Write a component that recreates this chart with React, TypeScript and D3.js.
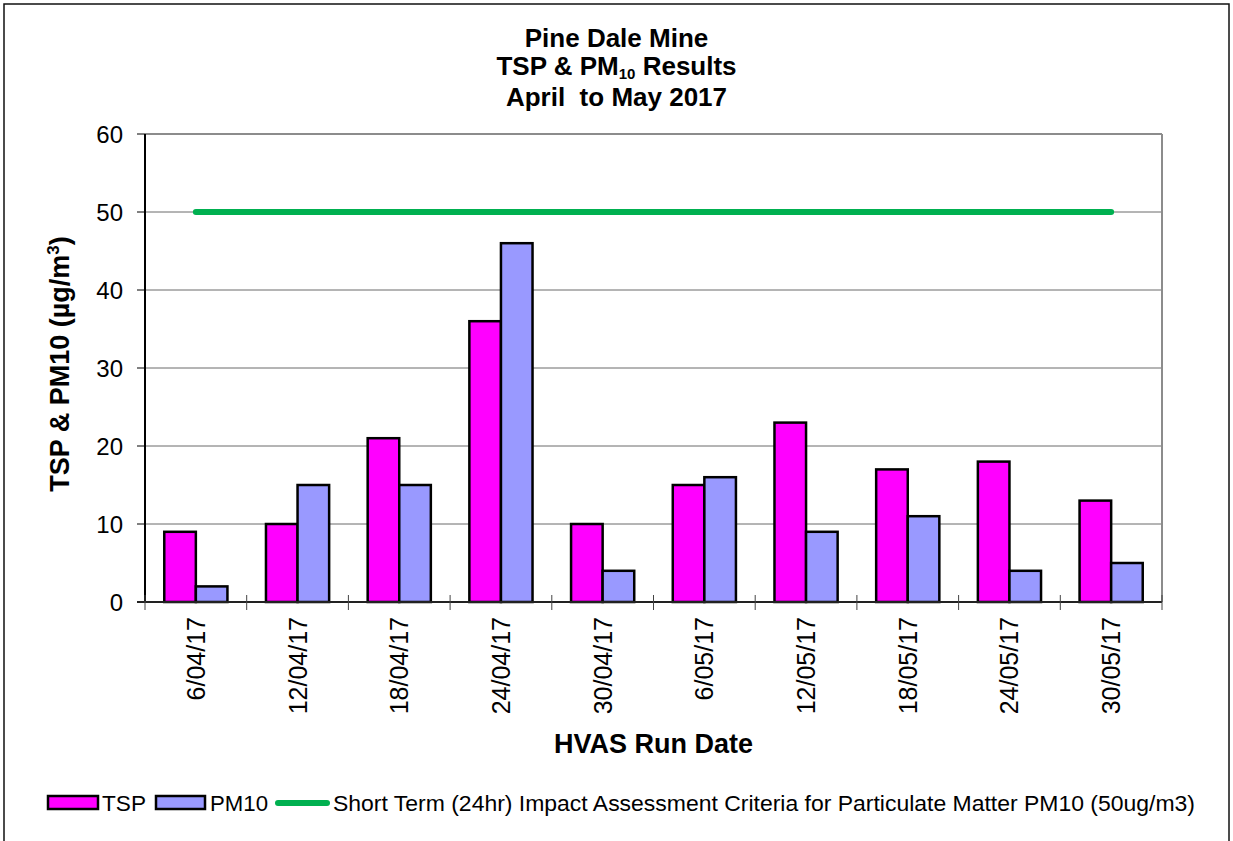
import React from "react";
import * as d3 from "d3";

// HVAS run dates and measured concentrations (µg/m³)
const runDates = [
  "6/04/17", "12/04/17", "18/04/17", "24/04/17", "30/04/17",
  "6/05/17", "12/05/17", "18/05/17", "24/05/17", "30/05/17",
];
const tspValues = [9, 10, 21, 36, 10, 15, 23, 17, 18, 13];
const pm10Values = [2, 15, 15, 46, 4, 16, 9, 11, 4, 5];
const criteriaValue = 50;
const yTicks = [0, 10, 20, 30, 40, 50, 60];
const seriesKeys = ["TSP", "PM10"];

const W = 1233;
const H = 841;
const plot = { left: 145, right: 1162, top: 134, bottom: 602 };

const TSP_FILL = "#FF00FF";
const PM10_FILL = "#9999FF";
const LINE_GREEN = "#00B050";
const FONT = "Liberation Sans, Arial, sans-serif";

export default function App() {
  const x = d3
    .scaleBand<string>()
    .domain(runDates)
    .range([plot.left, plot.right])
    .paddingInner(0)
    .paddingOuter(0);
  const x1 = d3
    .scaleBand<string>()
    .domain(seriesKeys)
    .range([0, x.bandwidth()])
    .paddingInner(0)
    .paddingOuter(0.61);
  const y = d3.scaleLinear().domain([0, 60]).range([plot.bottom, plot.top]);

  const series = [
    { key: "TSP", values: tspValues, fill: TSP_FILL },
    { key: "PM10", values: pm10Values, fill: PM10_FILL },
  ];

  const centers = runDates.map((d) => (x(d) as number) + x.bandwidth() / 2);
  const criteriaLine = d3
    .line<number>()
    .x((c) => c)
    .y(() => y(criteriaValue));

  const boundaries = runDates.map((d) => x(d) as number).concat([plot.right]);
  const titleX = (4 + 1229) / 2;
  const plotMidX = (plot.left + plot.right) / 2;
  const plotMidY = (plot.top + plot.bottom) / 2;

  return (
    <svg
      width={W}
      height={H}
      style={{ position: "absolute", left: 0, top: 0, background: "#fff" }}
      fontFamily={FONT}
    >
      <rect x={0} y={0} width={W} height={H} fill="#fff" />
      {/* chart area frame */}
      <rect x={4} y={4} width={1225} height={860} fill="none" stroke="#111" strokeWidth={1.5} />

      {/* title */}
      <text x={titleX} textAnchor="middle" fontWeight="bold" fontSize={26} fill="#000" style={{ whiteSpace: "pre" }}>
        <tspan x={titleX} y={47}>Pine Dale Mine</tspan>
        <tspan x={titleX} y={75}>
          TSP &amp; PM<tspan fontSize={15} dy={4}>10</tspan>
          <tspan dy={-4}> Results</tspan>
        </tspan>
        <tspan x={titleX} y={106}>April  to May 2017</tspan>
      </text>

      {/* gridlines */}
      {yTicks
        .filter((t) => t > 0 && t < 60)
        .map((t) => (
          <line key={`g${t}`} x1={plot.left} x2={plot.right} y1={y(t)} y2={y(t)} stroke="#6a6a6a" strokeWidth={1} />
        ))}
      {/* plot border (top and right) */}
      <line x1={plot.left} x2={plot.right} y1={plot.top} y2={plot.top} stroke="#8c8c8c" strokeWidth={2} />
      <line x1={plot.right} x2={plot.right} y1={plot.top} y2={plot.bottom} stroke="#8c8c8c" strokeWidth={2} />

      {/* bars */}
      {series.map((s) =>
        s.values.map((v, i) => (
          <rect
            key={`${s.key}${i}`}
            x={(x(runDates[i]) as number) + (x1(s.key) as number)}
            y={y(v)}
            width={x1.bandwidth()}
            height={y(0) - y(v)}
            fill={s.fill}
            stroke="#000"
            strokeWidth={2.5}
          />
        ))
      )}

      {/* criteria line */}
      <path
        d={criteriaLine(centers) as string}
        fill="none"
        stroke={LINE_GREEN}
        strokeWidth={6}
        strokeLinecap="round"
      />

      {/* y axis */}
      <line x1={plot.left} x2={plot.left} y1={plot.top} y2={plot.bottom} stroke="#000" strokeWidth={2} />
      {yTicks.map((t) => (
        <g key={`y${t}`}>
          <line x1={plot.left - 8} x2={plot.left} y1={y(t)} y2={y(t)} stroke="#000" strokeWidth={1} />
          <text x={123} y={y(t)} dy="0.36em" textAnchor="end" fontSize={24} fill="#000">
            {t}
          </text>
        </g>
      ))}

      {/* x axis */}
      <line x1={plot.left - 8} x2={plot.right} y1={plot.bottom} y2={plot.bottom} stroke="#222" strokeWidth={2} />
      {boundaries.map((bx, i) => (
        <line key={`xt${i}`} x1={bx} x2={bx} y1={plot.bottom - 7} y2={plot.bottom + 8} stroke="#444" strokeWidth={1} />
      ))}
      {runDates.map((d, i) => (
        <text
          key={`xl${d}`}
          transform={`translate(${centers[i]},617) rotate(-90)`}
          dy="0.36em"
          textAnchor="end"
          fontSize={25}
          fill="#000"
        >
          {d}
        </text>
      ))}

      {/* axis titles */}
      <text
        transform={`translate(69,${plotMidY - 4}) rotate(-90)`}
        textAnchor="middle"
        fontWeight="bold"
        fontSize={27}
        fill="#000"
      >
        TSP &amp; PM10 (µg/m<tspan fontSize={17} dy={-10}>3</tspan>
        <tspan dy={10}>)</tspan>
      </text>
      <text x={plotMidX} y={753} textAnchor="middle" fontWeight="bold" fontSize={27} fill="#000">
        HVAS Run Date
      </text>

      {/* legend */}
      <g fontSize={22.5} fill="#000">
        <rect x={48} y={796} width={50} height={13} fill={TSP_FILL} stroke="#000" strokeWidth={2.5} />
        <text x={102} y={803} dy="0.36em" textLength={44} lengthAdjust="spacingAndGlyphs">TSP</text>
        <rect x={156} y={796} width={49} height={13} fill={PM10_FILL} stroke="#000" strokeWidth={2.5} />
        <text x={210} y={803} dy="0.36em" textLength={58} lengthAdjust="spacingAndGlyphs">PM10</text>
        <line x1={278} x2={327} y1={803} y2={803} stroke={LINE_GREEN} strokeWidth={6} strokeLinecap="round" />
        <text x={333} y={803} dy="0.36em" textLength={862} lengthAdjust="spacingAndGlyphs">
          Short Term (24hr) Impact Assessment Criteria for Particulate Matter PM10 (50ug/m3)
        </text>
      </g>
    </svg>
  );
}
